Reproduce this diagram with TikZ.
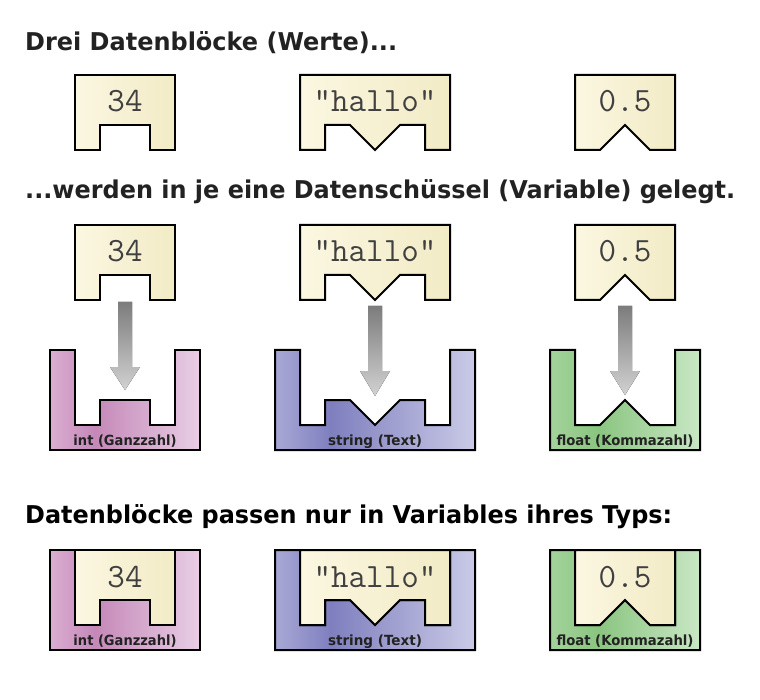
\documentclass[tikz,border=0pt]{standalone}
\usepackage{fontspec}
\setsansfont{DejaVu Sans}
\usepackage{graphicx}
\definecolor{creamL}{HTML}{FBF7E1}
\definecolor{creamR}{HTML}{F2EBC6}
\definecolor{pinkL}{HTML}{DAAED2}
\definecolor{pinkD}{HTML}{C588B8}
\definecolor{pinkR}{HTML}{E8CFE6}
\definecolor{blueL}{HTML}{A9A9D6}
\definecolor{blueD}{HTML}{7F7FBF}
\definecolor{blueR}{HTML}{CACAE7}
\definecolor{greenL}{HTML}{A4D39C}
\definecolor{greenD}{HTML}{8AC580}
\definecolor{greenR}{HTML}{C9E7C5}
\definecolor{arrTop}{HTML}{7C7C7C}
\definecolor{arrBot}{HTML}{D2D2D2}
\definecolor{titlecol}{HTML}{222222}
\pgfdeclarehorizontalshading{pinkshade}{100bp}{color(0bp)=(pinkL); color(25bp)=(pinkL); color(40bp)=(pinkD); color(75bp)=(pinkR); color(100bp)=(pinkR)}
\pgfdeclarehorizontalshading{blueshade}{100bp}{color(0bp)=(blueL); color(25bp)=(blueL); color(39bp)=(blueD); color(75bp)=(blueR); color(100bp)=(blueR)}
\pgfdeclarehorizontalshading{greenshade}{100bp}{color(0bp)=(greenL); color(25bp)=(greenL); color(41bp)=(greenD); color(75bp)=(greenR); color(100bp)=(greenR)}
\newcommand\fitw[2]{\resizebox{#1}{\height}{#2}}
% block outlines: #1 left x, #2 top y
\newcommand\blkInt[2]{(#1,#2) -- ++(100,0) -- ++(0,75) -- ++(-25,0) -- ++(0,-25) -- ++(-50,0) -- ++(0,25) -- ++(-25,0) -- cycle}
\newcommand\blkStr[2]{(#1,#2) -- ++(150,0) -- ++(0,75) -- ++(-25,0) -- ++(0,-25) -- ++(-25,0) -- ++(-25,25) -- ++(-25,-25) -- ++(-25,0) -- ++(0,25) -- ++(-25,0) -- cycle}
\newcommand\blkFlt[2]{(#1,#2) -- ++(100,0) -- ++(0,75) -- ++(-25,0) -- ++(-25,-25) -- ++(-25,25) -- ++(-25,0) -- cycle}
% containers: #1 left x, #2 top y
\newcommand\cntInt[2]{(#1,#2) -- ++(25,0) -- ++(0,75) -- ++(25,0) -- ++(0,-25) -- ++(50,0) -- ++(0,25) -- ++(25,0) -- ++(0,-75) -- ++(25,0) -- ++(0,100) -- ++(-150,0) -- cycle}
\newcommand\cntStr[2]{(#1,#2) -- ++(25,0) -- ++(0,75) -- ++(25,0) -- ++(0,-25) -- ++(25,0) -- ++(25,25) -- ++(25,-25) -- ++(25,0) -- ++(0,25) -- ++(25,0) -- ++(0,-75) -- ++(25,0) -- ++(0,100) -- ++(-200,0) -- cycle}
\newcommand\cntFlt[2]{(#1,#2) -- ++(25,0) -- ++(0,75) -- ++(25,0) -- ++(25,-25) -- ++(25,25) -- ++(25,0) -- ++(0,-75) -- ++(25,0) -- ++(0,100) -- ++(-150,0) -- cycle}
% arrow: #1 center x, #2 top y, #3 head start y, #4 tip y
\newcommand\fatarrow[4]{(#1-7,#2) -- (#1+7,#2) -- (#1+7,#3) -- (#1+15,#3) -- (#1,#4) -- (#1-15,#3) -- (#1-7,#3) -- cycle}
\tikzset{
  outline/.style={draw=black, line width=2pt, line join=miter},
  blockshape/.style={outline, left color=creamL, right color=creamR},
  pinkbox/.style={outline, shading=pinkshade},
  bluebox/.style={outline, shading=blueshade},
  greenbox/.style={outline, shading=greenshade},
  fatarr/.style={top color=arrTop, bottom color=arrBot, draw=none},
  valtext/.style={inner sep=0pt, anchor=base, font=\ttfamily\fontsize{34}{40}\selectfont, text=black!75},
  typelabel/.style={inner sep=0pt, anchor=base, font=\sffamily\bfseries\fontsize{14}{16}\selectfont, text=titlecol},
  titletext/.style={inner sep=0pt, anchor=base west, font=\sffamily\bfseries\fontsize{24.5}{28}\selectfont, text=titlecol}
}
\begin{document}
\begin{tikzpicture}[x=1pt, y=-1pt]
\fill[white] (0,0) rectangle (760,700);
\useasboundingbox (0,0) rectangle (760,700);

% Titles
\node[titletext] (t1) at (25,51) {\fitw{372pt}{Drei Datenblöcke (Werte)...}};
\node[titletext] (t2) at (25,199) {\fitw{710pt}{...werden in je eine Datenschüssel (Variable) gelegt.}};
\node[titletext, text=black] (t3) at (25,523) {\fitw{647pt}{Datenblöcke passen nur in Variables ihres Typs:}};

% Row 1: blocks
\path[blockshape] \blkInt{75}{75};
\path[blockshape] \blkStr{300}{75};
\path[blockshape] \blkFlt{575}{75};
\node[valtext] (v1a) at (125,112) {34};
\node[valtext] (v2a) at (375,112) {"hallo"};
\node[valtext] (v3a) at (625,112) {0.5};

% Row 2: blocks, arrows, containers
\path[blockshape] \blkInt{75}{225};
\path[blockshape] \blkStr{300}{225};
\path[blockshape] \blkFlt{575}{225};
\node[valtext] (v1b) at (125,262) {34};
\node[valtext] (v2b) at (375,262) {"hallo"};
\node[valtext] (v3b) at (625,262) {0.5};

\fill[fatarr] \fatarrow{125}{302}{367}{390};
\fill[fatarr] \fatarrow{375}{306}{371}{396};
\fill[fatarr] \fatarrow{625}{306}{371}{395};

\path[pinkbox] \cntInt{50}{350};
\path[bluebox] \cntStr{275}{350};
\path[greenbox] \cntFlt{550}{350};
\node[typelabel] (l1b) at (125,445) {\fitw{103pt}{int (Ganzzahl)}};
\node[typelabel] (l2b) at (375,445) {\fitw{94pt}{string (Text)}};
\node[typelabel] (l3b) at (625,445) {\fitw{137pt}{float (Kommazahl)}};

% Row 3: containers with blocks inside
\path[pinkbox] \cntInt{50}{550};
\path[bluebox] \cntStr{275}{550};
\path[greenbox] \cntFlt{550}{550};
\path[blockshape] \blkInt{75}{550};
\path[blockshape] \blkStr{300}{550};
\path[blockshape] \blkFlt{575}{550};
\node[valtext] (v1c) at (125,587) {34};
\node[valtext] (v2c) at (375,587) {"hallo"};
\node[valtext] (v3c) at (625,587) {0.5};
\node[typelabel] (l1c) at (125,645) {\fitw{103pt}{int (Ganzzahl)}};
\node[typelabel] (l2c) at (375,645) {\fitw{94pt}{string (Text)}};
\node[typelabel] (l3c) at (625,645) {\fitw{137pt}{float (Kommazahl)}};
\end{tikzpicture}
\end{document}
